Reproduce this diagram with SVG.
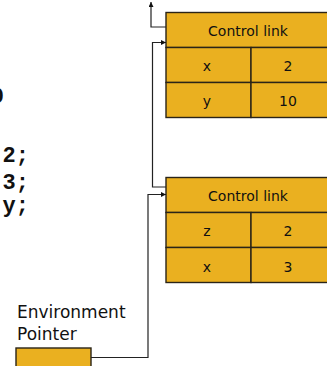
<svg xmlns="http://www.w3.org/2000/svg" width="327" height="366" viewBox="0 0 327 366">
<defs>
<style>
.cell{fill:#EAB020;stroke:#2a2418;stroke-width:1.4}
.lbl{font-family:"DejaVu Sans",Verdana,sans-serif;font-size:14px;fill:#111;text-anchor:middle}
.code{font-family:"Liberation Mono","Courier New",monospace;font-weight:bold;font-size:22px;fill:#111}
.env{font-family:"DejaVu Sans",Verdana,sans-serif;font-size:17px;fill:#111}
.conn{fill:none;stroke:#222;stroke-width:1.2}
</style>
<marker id="ah" viewBox="0 0 10 10" refX="10" refY="5" markerWidth="5" markerHeight="5" orient="auto" markerUnits="userSpaceOnUse">
<path d="M0,0 L10,5 L0,10 Z" fill="#111"/>
</marker>
</defs>
<rect width="327" height="366" fill="#fff"/>
<text class="code" x="4" y="103" text-anchor="end">10</text>
<text class="code" x="29" y="162" text-anchor="end">2;</text>
<text class="code" x="29" y="189" text-anchor="end">3;</text>
<text class="code" x="29" y="212" text-anchor="end">y;</text>
<g id="frame1">
<rect class="cell" x="166" y="12.5" width="170" height="35"/>
<rect class="cell" x="166" y="47.5" width="85" height="35"/>
<rect class="cell" x="251" y="47.5" width="85" height="35"/>
<rect class="cell" x="166" y="82.5" width="85" height="35"/>
<rect class="cell" x="251" y="82.5" width="85" height="35"/>
<text class="lbl" x="248" y="35.5">Control link</text>
<text class="lbl" x="207" y="71">x</text>
<text class="lbl" x="288" y="71">2</text>
<text class="lbl" x="207" y="106">y</text>
<text class="lbl" x="288" y="106">10</text>
</g>
<g id="frame2">
<rect class="cell" x="166" y="177.5" width="170" height="35"/>
<rect class="cell" x="166" y="212.5" width="85" height="35"/>
<rect class="cell" x="251" y="212.5" width="85" height="35"/>
<rect class="cell" x="166" y="247.5" width="85" height="35"/>
<rect class="cell" x="251" y="247.5" width="85" height="35"/>
<text class="lbl" x="248" y="200.5">Control link</text>
<text class="lbl" x="207" y="236">z</text>
<text class="lbl" x="288" y="236">2</text>
<text class="lbl" x="207" y="271.5">x</text>
<text class="lbl" x="288" y="271.5">3</text>
</g>
<g id="envptr">
<text class="env" x="17" y="318">Environment</text>
<text class="env" x="17" y="340">Pointer</text>
<rect class="cell" x="16" y="348" width="75" height="25"/>
</g>
<g id="connectors">
<path class="conn" d="M166,27 H151 V2" marker-end="url(#ah)"/>
<path class="conn" d="M166,187 H152.5 V42.5 H166" marker-end="url(#ah)"/>
<path class="conn" d="M91,357.5 H148 V194.5 H166" marker-end="url(#ah)"/>
</g>
</svg>
